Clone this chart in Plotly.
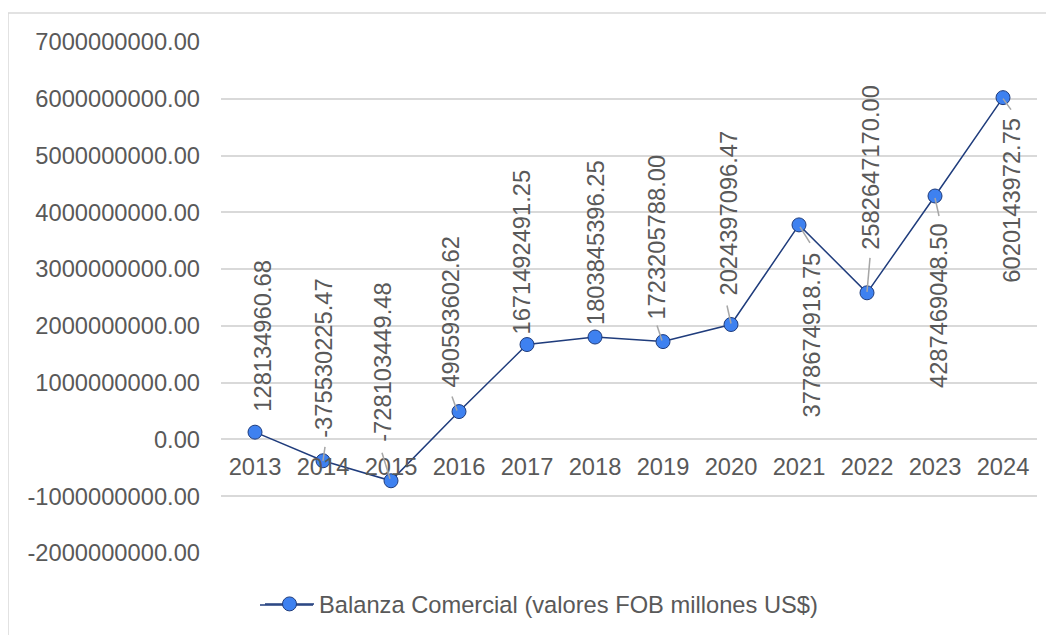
import plotly.graph_objects as go

years = ["2013", "2014", "2015", "2016", "2017", "2018", "2019", "2020", "2021", "2022", "2023", "2024"]
balanza = [128134960.68, -375530225.47, -728103449.48, 490593602.62, 1671492491.25, 1803845396.25,
           1723205788.00, 2024397096.47, 3778674918.75, 2582647170.00, 4287469048.50, 6020143972.75]
y_ticks = [-2e9, -1e9, 0, 1e9, 2e9, 3e9, 4e9, 5e9, 6e9, 7e9]
y_tick_labels = [f"{v:.2f}" for v in y_ticks]
series_name = "Balanza Comercial (valores FOB millones US$)"

# label placement (pixel offsets of label centre from point; +down)
label_dx = [8.5, 1, -8, -8, -5, 1, -6, -3, 12.5, 4, 4, 9]
label_dy = [-96, -102, -118, -100, -92, -94, -104, -111, 110, -125, 110, 103]
# leader lines (pixel offsets from point, +down): (x0, y0, x1, y1); None = no leader
leaders = [None, (2, -14, 0, 0), (-9, -28, -1, -2), (-7, -15, -2, -1), None, None,
           (-6, -16, -1, -1), (-4, -19, 0, -1), (1, 2, 11, 18), (3, -35, 0, -1),
           (0, 2, 4, 20), (0, 1, 8, 12)]

FONT = "Arial, Liberation Sans, sans-serif"
TXT = "#595959"
FS = 23.7
LINE_C = "#1F3C7C"

PLOT_L, PLOT_W, PLOT_B, PLOT_H = 221, 816, 553, 511  # page pixels of plot area

fig = go.Figure()
fig.add_trace(go.Scatter(
    x=years, y=balanza, mode="lines+markers", name=series_name,
    line=dict(color=LINE_C, width=1.5),
    marker=dict(size=14, color="#3E81F0", line=dict(color=LINE_C, width=1)),
))

annotations = []
shapes = []
for i, v in enumerate(balanza):
    annotations.append(dict(
        x=i, y=v, xref="x", yref="y", text=f"{v:.2f}", showarrow=False,
        textangle=-90, xshift=label_dx[i], yshift=-label_dy[i],
        font=dict(family=FONT, size=FS, color=TXT),
    ))
    if leaders[i] is not None:
        x0, y0, x1, y1 = leaders[i]
        shapes.append(dict(
            type="line", xref="x", yref="y", xsizemode="pixel", ysizemode="pixel",
            xanchor=i, yanchor=v, x0=x0, x1=x1, y0=-y0, y1=-y1,
            line=dict(color="#A6A6A6", width=1.5), layer="above",
        ))

def px(xp):
    return (xp - PLOT_L) / PLOT_W

def py(yp):
    return (PLOT_B - yp) / PLOT_H

# outer chart border (left and top, cropped image)
shapes.append(dict(type="line", xref="paper", yref="paper", x0=px(8), x1=px(8),
                   y0=py(13), y1=py(700), line=dict(color="#D9D9D9", width=1.5)))
shapes.append(dict(type="line", xref="paper", yref="paper", x0=px(8), x1=px(1100),
                   y0=py(13), y1=py(13), line=dict(color="#D9D9D9", width=1.5)))
# longer legend key line (Excel style)
shapes.append(dict(type="line", xref="paper", yref="paper", x0=px(260), x1=px(313),
                   y0=py(605), y1=py(605), line=dict(color=LINE_C, width=1.5), layer="below"))

fig.update_layout(
    width=1046, height=627,
    margin=dict(l=213, r=17, t=34, b=82, autoexpand=False),
    paper_bgcolor="white", plot_bgcolor="white",
    font=dict(family=FONT, size=FS, color=TXT),
    showlegend=True,
    legend=dict(orientation="h", x=0.0478, xanchor="left", y=py(604), yanchor="middle",
                itemwidth=49,
                font=dict(family=FONT, size=FS, color=TXT), bgcolor="rgba(0,0,0,0)"),
    xaxis=dict(type="category", range=[-0.5, 11.5], anchor="free", position=2/9,
               showgrid=False, showline=False, ticks="", tickfont=dict(size=FS, color=TXT),
               ticklabelstandoff=11, automargin=False),
    yaxis=dict(range=[-2e9, 7e9], tickvals=y_ticks, ticktext=y_tick_labels,
               showgrid=True, gridcolor="#D9D9D9", gridwidth=1.5, zeroline=False,
               showline=False, ticks="", ticklabelstandoff=20, automargin=False,
               tickfont=dict(size=FS, color=TXT)),
    annotations=annotations, shapes=shapes,
)

fig.write_html("out.html")
